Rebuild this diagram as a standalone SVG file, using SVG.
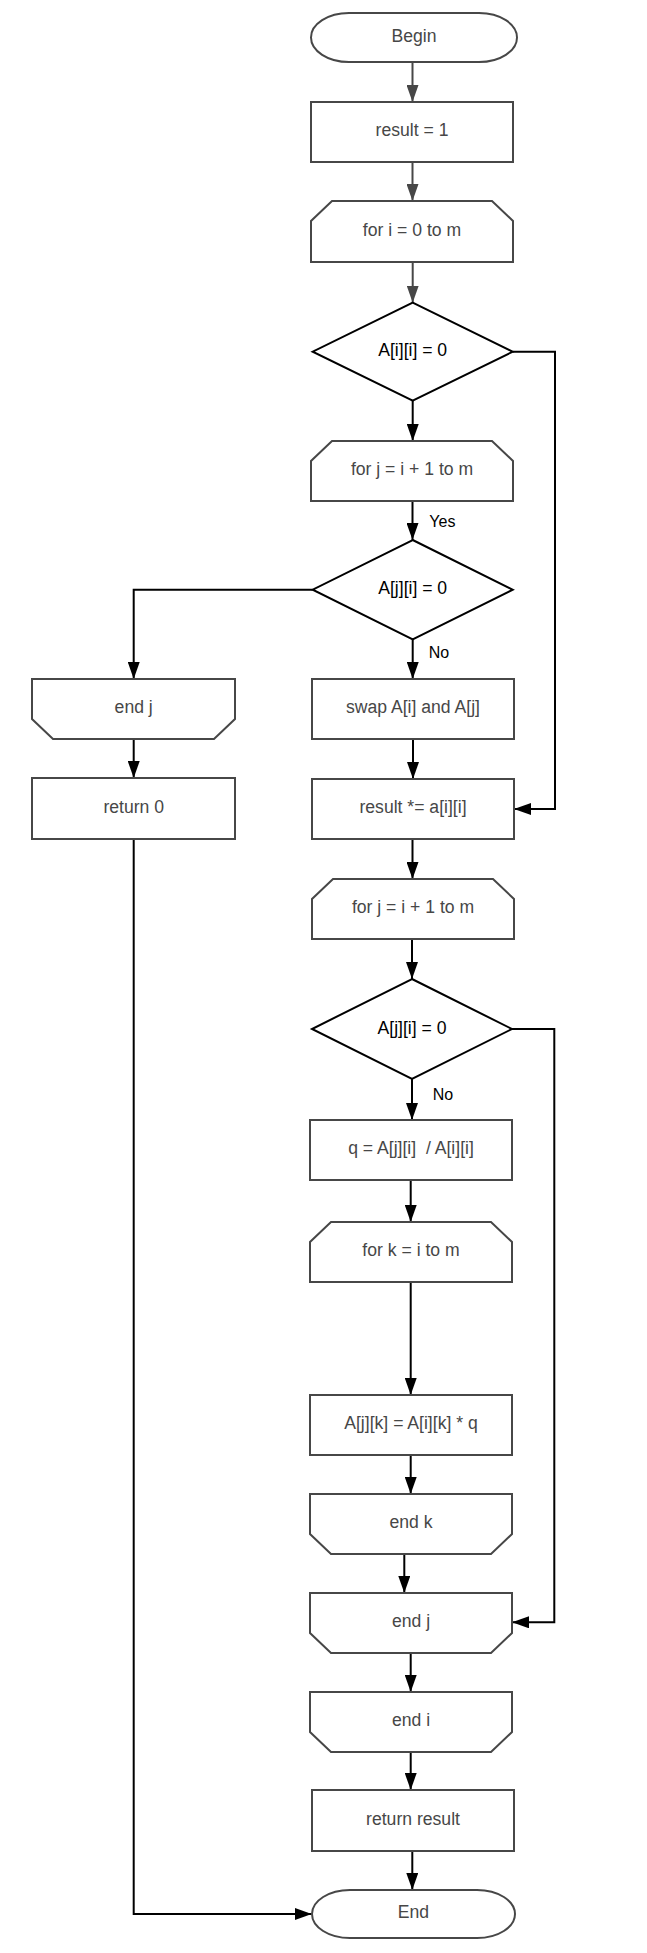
<svg xmlns="http://www.w3.org/2000/svg" width="647" height="1953" viewBox="0 0 647 1953">
<style>
.bg{fill:#ffffff}
.box{fill:#ffffff;stroke:#474747;stroke-width:2}
.dia{fill:#ffffff;stroke:#000000;stroke-width:2}
.t{font-family:"Liberation Sans",Arial,sans-serif;font-size:17.6px;fill:#474747;text-anchor:middle;white-space:pre}
.td{font-family:"Liberation Sans",Arial,sans-serif;font-size:17.6px;fill:#000000;text-anchor:middle}
.lbl{font-family:"Liberation Sans",Arial,sans-serif;font-size:16px;fill:#000000}
.c{fill:none;stroke:#000000;stroke-width:2;marker-end:url(#ah)}
.cg{fill:none;stroke:#474747;stroke-width:2;marker-end:url(#ahg)}
</style>
<defs>
<marker id="ah" markerUnits="userSpaceOnUse" markerWidth="17" markerHeight="12" refX="17" refY="6" orient="auto"><path d="M0,0 L17,6 L0,12 Z" fill="#000000"/></marker>
<marker id="ahg" markerUnits="userSpaceOnUse" markerWidth="17" markerHeight="12" refX="17" refY="6" orient="auto"><path d="M0,0 L17,6 L0,12 Z" fill="#474747"/></marker>
</defs>
<rect class="bg" x="0" y="0" width="647" height="1953"/>

<g id="connectors">
<path class="cg" d="M412.5,62 V102"/>
<path class="cg" d="M412.5,162 V201"/>
<path class="cg" d="M412.7,262 V302.7"/>
<path class="c" d="M412.7,400.7 V441"/>
<path class="c" d="M412.5,501 V540"/>
<path class="c" d="M412.7,639.3 V679"/>
<path class="c" d="M312.7,589.7 H133.7 V679"/>
<path class="c" d="M133.7,739 V778"/>
<path class="c" d="M133.7,839 V1914 H311.7"/>
<path class="c" d="M413,739 V779"/>
<path class="c" d="M512.7,351.7 H555 V809 H514"/>
<path class="c" d="M412.5,839 V879"/>
<path class="c" d="M412,939 V979"/>
<path class="c" d="M412,1079 V1120"/>
<path class="c" d="M410.7,1180 V1222"/>
<path class="c" d="M410.7,1282 V1395"/>
<path class="c" d="M410.7,1455 V1494"/>
<path class="c" d="M404.3,1554 V1593"/>
<path class="c" d="M511.7,1029 H554.3 V1622.3 H512"/>
<path class="c" d="M410.7,1653 V1692"/>
<path class="c" d="M410.7,1752 V1790"/>
<path class="c" d="M412.3,1851 V1890"/>
<text class="lbl" x="429.3" y="527.3">Yes</text>
<text class="lbl" x="428.7" y="657.7">No</text>
<text class="lbl" x="432.7" y="1100">No</text>
</g>

<g id="begin">
<rect class="box" x="311" y="13" width="206" height="49" rx="38" ry="24.5"/>
<text class="t" x="414" y="41.5">Begin</text>
</g>
<g id="result1">
<rect class="box" x="311" y="102" width="202" height="60"/>
<text class="t" x="412" y="136">result = 1</text>
</g>
<g id="for_i">
<path class="box" d="M311,262 L311,221 L332,201 L492,201 L513,221 L513,262 Z"/>
<text class="t" x="412" y="235.5">for i = 0 to m</text>
</g>
<g id="cond_aii">
<path class="dia" d="M412.7,302.7 L512.7,351.7 L412.7,400.7 L312.7,351.7 Z"/>
<text class="td" x="412.7" y="356">A[i][i] = 0</text>
</g>
<g id="for_j1">
<path class="box" d="M311,501 L311,461 L332,441 L492,441 L513,461 L513,501 Z"/>
<text class="t" x="412" y="474.5">for j = i + 1 to m</text>
</g>
<g id="cond_aji1">
<path class="dia" d="M412.7,540 L512.7,589.7 L412.7,639.3 L312.7,589.7 Z"/>
<text class="td" x="412.7" y="594">A[j][i] = 0</text>
</g>
<g id="end_j_left">
<path class="box" d="M32,679 L235,679 L235,719 L214,739 L53,739 L32,719 Z"/>
<text class="t" x="133.7" y="712.5">end j</text>
</g>
<g id="return0">
<rect class="box" x="32" y="778" width="203" height="61"/>
<text class="t" x="133.7" y="812.5">return 0</text>
</g>
<g id="swap">
<rect class="box" x="312" y="679" width="202" height="60"/>
<text class="t" x="413" y="713">swap A[i] and A[j]</text>
</g>
<g id="result_mul">
<rect class="box" x="312" y="779" width="202" height="60"/>
<text class="t" x="413" y="813">result *= a[i][i]</text>
</g>
<g id="for_j2">
<path class="box" d="M312,939 L312,899 L333,879 L493,879 L514,899 L514,939 Z"/>
<text class="t" x="413" y="912.5">for j = i + 1 to m</text>
</g>
<g id="cond_aji2">
<path class="dia" d="M412,979 L512,1029 L412,1079 L312,1029 Z"/>
<text class="td" x="412" y="1033.5">A[j][i] = 0</text>
</g>
<g id="q_assign">
<rect class="box" x="310" y="1120" width="202" height="60"/>
<text class="t" x="411" y="1154">q = A[j][i]  / A[i][i]</text>
</g>
<g id="for_k">
<path class="box" d="M310,1282 L310,1242 L331,1222 L491,1222 L512,1242 L512,1282 Z"/>
<text class="t" x="411" y="1255.5">for k = i to m</text>
</g>
<g id="ajk_assign">
<rect class="box" x="310" y="1395" width="202" height="60"/>
<text class="t" x="411" y="1429">A[j][k] = A[i][k] * q</text>
</g>
<g id="end_k">
<path class="box" d="M310,1494 L512,1494 L512,1534 L491,1554 L331,1554 L310,1534 Z"/>
<text class="t" x="411" y="1527.5">end k</text>
</g>
<g id="end_j2">
<path class="box" d="M310,1593 L512,1593 L512,1633 L491,1653 L331,1653 L310,1633 Z"/>
<text class="t" x="411" y="1626.5">end j</text>
</g>
<g id="end_i">
<path class="box" d="M310,1692 L512,1692 L512,1732 L491,1752 L331,1752 L310,1732 Z"/>
<text class="t" x="411" y="1725.5">end i</text>
</g>
<g id="return_result">
<rect class="box" x="312" y="1790" width="202" height="61"/>
<text class="t" x="413" y="1824.5">return result</text>
</g>
<g id="end">
<rect class="box" x="312" y="1890" width="203" height="48" rx="38" ry="24"/>
<text class="t" x="413.5" y="1918">End</text>
</g>
</svg>
